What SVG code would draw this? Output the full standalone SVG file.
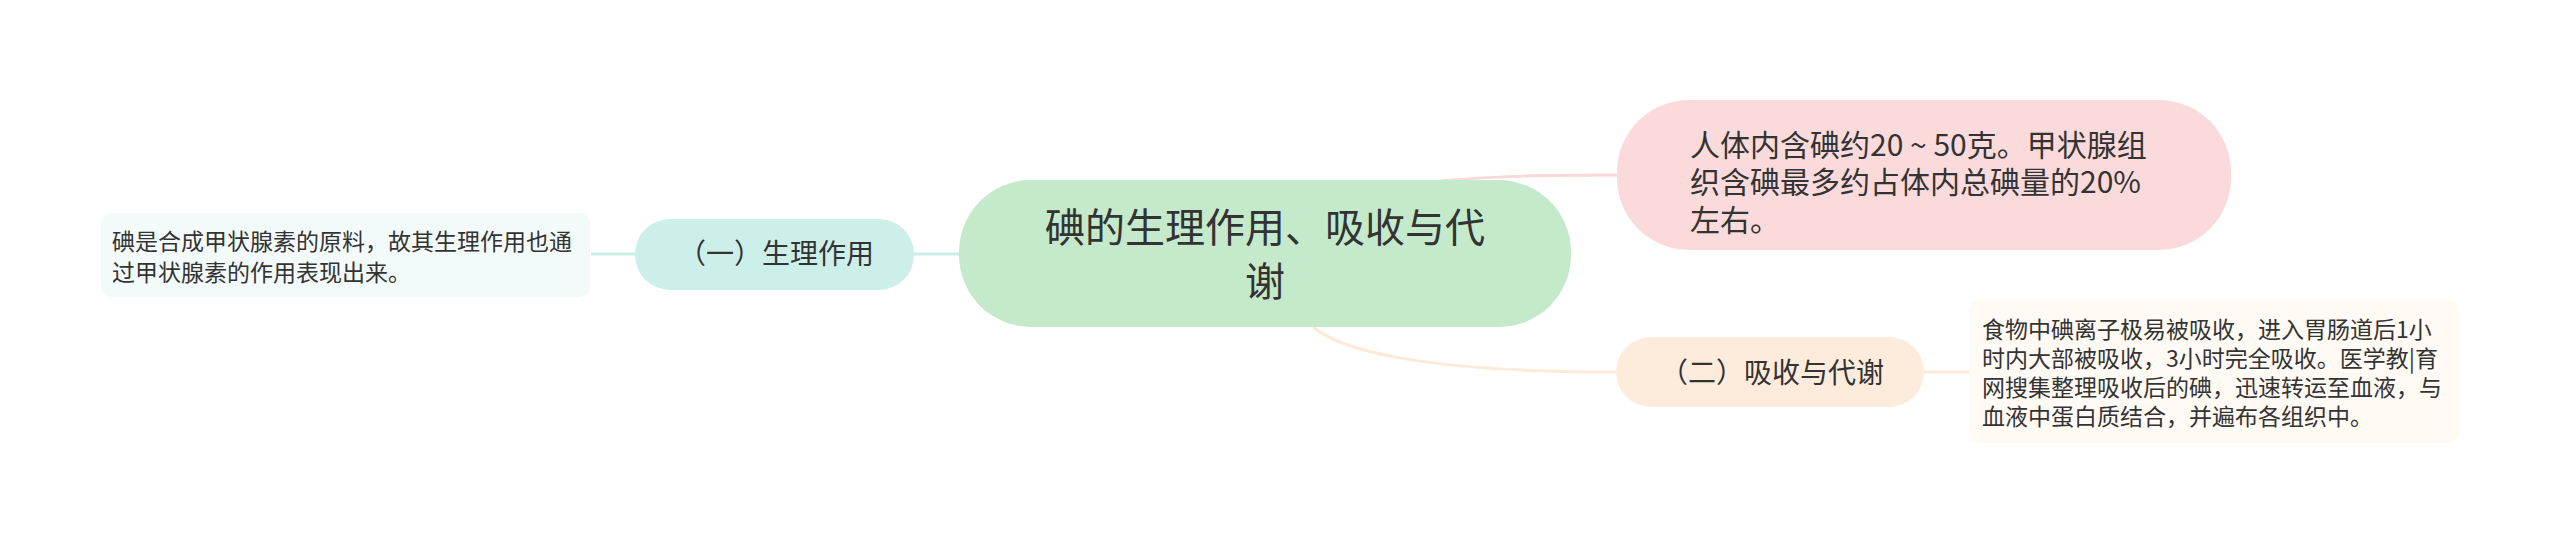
<svg xmlns="http://www.w3.org/2000/svg" width="2560" height="544" viewBox="0 0 2560 544">
<style>
text{font-family:"Noto Sans CJK SC","Noto Sans",sans-serif;fill:#333333}
.c{font-size:40px;text-anchor:middle}
.l1{font-size:28px;text-anchor:middle}
.p{font-size:30px}
.d{font-size:23px}
.ln{fill:none;stroke-width:3}
</style>
<rect width="2560" height="544" fill="#ffffff"/>
<g id="connectors">
<path class="ln" stroke="#c9ede7" d="M591 254 L635 254"/>
<path class="ln" stroke="#c9ede7" d="M914 254 L960 254"/>
<path class="ln" stroke="#f8d8d8" d="M1440 181 C1500 176 1540 175 1618 175"/>
<path class="ln" stroke="#fdebd8" d="M1313 327 C1340 350 1420 372 1616 372"/>
<path class="ln" stroke="#fdebd8" d="M1923 372 L1970 372"/>
</g>
<g id="root">
<rect x="959" y="180" width="612" height="147" rx="72" fill="#c5eacb"/>
<text class="c" x="1265" y="242">碘的生理作用、吸收与代</text>
<text class="c" x="1265" y="296">谢</text>
</g>
<g id="n1">
<rect x="635" y="219" width="279" height="71" rx="35" fill="#cdefea"/>
<text class="l1" x="776" y="264">（一）生理作用</text>
</g>
<g id="n1d">
<rect x="101" y="213" width="489" height="84" rx="10" fill="#f3fbfa"/>
<text class="d" x="112" y="250">碘是合成甲状腺素的原料，故其生理作用也通</text>
<text class="d" x="112" y="281">过甲状腺素的作用表现出来。</text>
</g>
<g id="n2">
<rect x="1617" y="100" width="614" height="150" rx="72" fill="#fadadb"/>
<text class="p" x="1690" y="156">人体内含碘约20 ~ 50克。甲状腺组</text>
<text class="p" x="1690" y="193">织含碘最多约占体内总碘量的20%</text>
<text class="p" x="1690" y="231">左右。</text>
</g>
<g id="n3">
<rect x="1616" y="337" width="308" height="70" rx="35" fill="#fdecdc"/>
<text class="l1" x="1772" y="383">（二）吸收与代谢</text>
</g>
<g id="n3d">
<rect x="1969" y="300" width="490" height="143" rx="10" fill="#fffaf4"/>
<text class="d" x="1982" y="338">食物中碘离子极易被吸收，进入胃肠道后1小</text>
<text class="d" x="1982" y="367">时内大部被吸收，3小时完全吸收。医学教|育</text>
<text class="d" x="1982" y="396">网搜集整理吸收后的碘，迅速转运至血液，与</text>
<text class="d" x="1982" y="425">血液中蛋白质结合，并遍布各组织中。</text>
</g>
</svg>
